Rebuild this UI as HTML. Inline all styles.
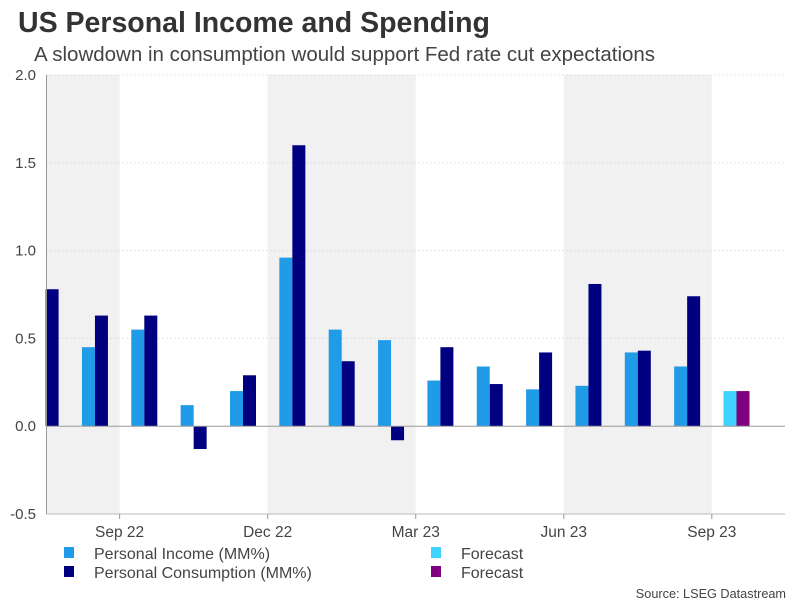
<!DOCTYPE html>
<html><head><meta charset="utf-8"><style>
body{margin:0;background:#fff;font-family:"Liberation Sans",sans-serif;}
</style></head><body>
<svg width="805" height="604" xmlns="http://www.w3.org/2000/svg" id="svg">
<text x="18" y="32" font-size="28.5" font-weight="bold" fill="#333">US Personal Income and Spending</text>
<text x="34" y="61" font-size="20.5" fill="#444">A slowdown in consumption would support Fed rate cut expectations</text>
<g id="bg"></g><g id="grid"></g><g id="bars"></g><g id="axes"></g>
<g font-size="16" fill="#444">
<rect x="64" y="547" width="10" height="11" fill="#1f9be8"/>
<text x="94" y="559">Personal Income (MM%)</text>
<rect x="64" y="566" width="10" height="11" fill="#000080"/>
<text x="94" y="578">Personal Consumption (MM%)</text>
<rect x="431" y="547" width="10" height="11" fill="#3fd3ff"/>
<text x="461" y="559">Forecast</text>
<rect x="431" y="566" width="10" height="11" fill="#800080"/>
<text x="461" y="578">Forecast</text>
</g>
<text x="786" y="598" font-size="12.7" fill="#444" text-anchor="end">Source: LSEG Datastream</text>
</svg>
<script>
const months=["Aug 22","Sep 22","Oct 22","Nov 22","Dec 22","Jan 23","Feb 23","Mar 23","Apr 23","May 23","Jun 23","Jul 23","Aug 23","Sep 23","Oct 23"];
const income=[0.30,0.45,0.55,0.12,0.20,0.96,0.55,0.49,0.26,0.34,0.21,0.23,0.42,0.34,0.20];
const consumption=[0.78,0.63,0.63,-0.13,0.29,1.60,0.37,-0.08,0.45,0.24,0.42,0.81,0.43,0.74,0.20];
const forecastFlags=[0,0,0,0,0,0,0,0,0,0,0,0,0,0,1];
const yTicks=[-0.5,0,0.5,1.0,1.5,2.0];
const yTickLabels=["-0.5","0.0","0.5","1.0","1.5","2.0"];
const xTickLabels=["Sep 22","Dec 22","Mar 23","Jun 23","Sep 23"];
const xTickMonths=[1,4,7,10,13];

const L=46.5,R=785,T=75,B=514,ymin=-0.5,ymax=2.0,step=49.35,c0=45.6;
const y=v=>B-(v-ymin)/(ymax-ymin)*(B-T);
const xc=i=>c0+i*step;
const NS="http://www.w3.org/2000/svg";
function mk(p,t,a){const e=document.createElementNS(NS,t);for(const k in a)e.setAttribute(k,a[k]);document.getElementById(p).appendChild(e);return e;}
const bounds=[L];for(const m of xTickMonths)bounds.push(xc(m)+step/2);bounds.push(R);
for(let k=0;k<bounds.length-1;k+=2){
 const r=mk('bg','rect',{x:bounds[k],y:T,width:bounds[k+1]-bounds[k],height:B-T,fill:'#f1f1f1'});
 
 
}
yTicks.forEach((v,i)=>{
 if(v!==0&&v!==ymin){const g=mk('grid','line',{x1:L,x2:R,y1:y(v),y2:y(v),stroke:'#ccc','stroke-dasharray':'1,3'});
 
 }
 const t=mk('axes','text',{x:36,y:y(v)+5,'font-size':15,fill:'#444','text-anchor':'end'});t.textContent=yTickLabels[i];
 
 
});
const bw=13;
months.forEach((m,i)=>{
 const f=forecastFlags[i];
 const vi=income[i],vc=consumption[i];
 let x1=Math.max(L,xc(i)-bw),w1=xc(i)-x1;
 if(w1>0){const a=mk('bars','rect',{x:x1,y:Math.min(y(vi),y(0)),width:w1,height:Math.abs(y(vi)-y(0)),fill:f?'#3fd3ff':'#1f9be8'});
 
 }
 const b=mk('bars','rect',{x:xc(i),y:Math.min(y(vc),y(0)),width:bw,height:Math.abs(y(vc)-y(0)),fill:f?'#800080':'#000080'});
 
 
});
mk('axes','line',{x1:L,x2:R,y1:y(0),y2:y(0),stroke:'#999'});
mk('axes','line',{x1:L,x2:L,y1:T,y2:B,stroke:'#999'});
mk('axes','line',{x1:L,x2:R,y1:B,y2:B,stroke:'#bbb'});
xTickMonths.forEach((m,i)=>{
 const xx=xc(m)+step/2;
 mk('axes','line',{x1:xx,x2:xx,y1:B,y2:B+5,stroke:'#999'});
 const t=mk('axes','text',{x:xx,y:B+23,'font-size':15.5,fill:'#444','text-anchor':'middle'});t.textContent=xTickLabels[i];
 
 
});
</script>
</body></html>
